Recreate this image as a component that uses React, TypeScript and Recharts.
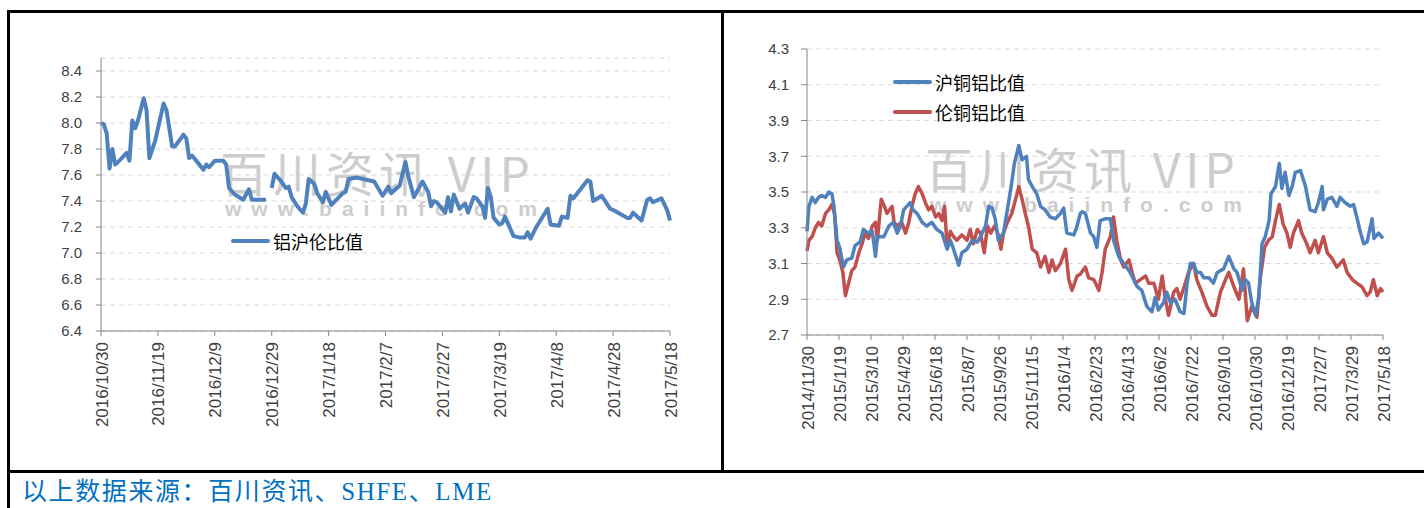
import React from 'react';
import { LineChart, Line, XAxis, YAxis, CartesianGrid } from 'recharts';

// left panel: 铝沪伦比值, x = days after 2016/10/30
const leftTickLabels = ['2016/10/30', '2016/11/19', '2016/12/9', '2016/12/29', '2017/1/18', '2017/2/7', '2017/2/27', '2017/3/19', '2017/4/8', '2017/4/28', '2017/5/18'];
const leftYTicks = [6.4, 6.6, 6.8, 7.0, 7.2, 7.4, 7.6, 7.8, 8.0, 8.2, 8.4];
const leftDays = [0, 1, 2, 3, 4, 5, 6, 9, 10, 11, 12, 13, 15, 16, 17, 19, 22, 23, 25, 26, 29, 30, 31, 32, 36, 37, 38, 40, 43, 44, 45, 47, 50, 52, 53, 58, 59, 60, 61, 63, 65, 66, 67, 69, 71, 72, 73, 75, 76, 78, 79, 81, 85, 86, 87, 90, 96, 99, 101, 102, 105, 107, 108, 110, 113, 115, 116, 117, 118, 121, 122, 123, 124, 126, 128, 129, 130, 131, 132, 134, 135, 136, 137, 138, 140, 141, 142, 143, 145, 147, 149, 150, 151, 153, 157, 158, 161, 162, 164, 165, 166, 171, 172, 173, 176, 179, 181, 185, 186, 187, 190, 192, 193, 194, 197, 199, 200];
const leftRatio = [8.00, 7.99, 7.92, 7.65, 7.80, 7.68, 7.70, 7.77, 7.71, 8.02, 7.96, 8.02, 8.19, 8.10, 7.73, 7.86, 8.15, 8.10, 7.82, 7.82, 7.91, 7.88, 7.73, 7.75, 7.64, 7.68, 7.66, 7.71, 7.71, 7.68, 7.50, 7.45, 7.41, 7.49, 7.41, 7.41, null, 7.50, 7.61, 7.56, 7.50, 7.51, 7.43, 7.36, 7.31, 7.38, 7.57, 7.53, 7.46, 7.39, 7.47, 7.37, 7.46, 7.47, 7.57, 7.58, 7.55, 7.44, 7.51, 7.46, 7.52, 7.70, 7.59, 7.43, 7.55, 7.47, 7.36, 7.40, 7.39, 7.31, 7.43, 7.32, 7.45, 7.34, 7.38, 7.31, 7.37, 7.43, 7.42, 7.36, 7.27, 7.50, 7.43, 7.27, 7.22, 7.23, 7.28, 7.23, 7.13, 7.12, 7.12, 7.16, 7.11, 7.20, 7.34, 7.22, 7.21, 7.28, 7.27, 7.44, 7.42, 7.56, 7.55, 7.40, 7.44, 7.34, 7.32, 7.27, 7.27, 7.31, 7.25, 7.41, 7.42, 7.39, 7.42, 7.33, 7.25];

// right panel: 沪铜铝比值 / 伦铜铝比值, x = days after 2014/11/30
const rightTickLabels = ['2014/11/30', '2015/1/19', '2015/3/10', '2015/4/29', '2015/6/18', '2015/8/7', '2015/9/26', '2015/11/15', '2016/1/4', '2016/2/23', '2016/4/13', '2016/6/2', '2016/7/22', '2016/9/10', '2016/10/30', '2016/12/19', '2017/2/7', '2017/3/29', '2017/5/18'];
const rightYTicks = [2.7, 2.9, 3.1, 3.3, 3.5, 3.7, 3.9, 4.1, 4.3];
const shDays = [0, 3, 8, 13, 18, 23, 29, 34, 39, 42, 47, 51, 57, 62, 70, 75, 83, 88, 96, 102, 107, 110, 120, 128, 135, 141, 146, 151, 156, 161, 166, 172, 180, 187, 195, 203, 211, 219, 224, 229, 237, 242, 250, 258, 266, 271, 279, 284, 289, 294, 299, 307, 313, 319, 324, 331, 336, 343, 346, 352, 359, 365, 372, 380, 388, 396, 401, 406, 417, 422, 427, 430, 435, 443, 448, 453, 458, 466, 474, 479, 487, 495, 505, 516, 523, 531, 539, 544, 549, 557, 562, 568, 575, 583, 589, 594, 599, 604, 609, 615, 620, 628, 635, 641, 651, 659, 667, 672, 680, 685, 690, 695, 701, 706, 711, 716, 722, 725, 732, 738, 742, 747, 753, 758, 763, 771, 779, 786, 794, 799, 805, 807, 813, 820, 828, 833, 841, 849, 854, 859, 865, 870, 875, 883, 886, 893, 900];
const shRatio = [3.28, 3.42, 3.47, 3.44, 3.47, 3.48, 3.47, 3.50, 3.49, 3.42, 3.23, 3.19, 3.08, 3.12, 3.13, 3.20, 3.22, 3.29, 3.27, 3.28, 3.14, 3.25, 3.25, 3.31, 3.33, 3.27, 3.31, 3.40, 3.42, 3.44, 3.40, 3.38, 3.33, 3.31, 3.33, 3.29, 3.27, 3.18, 3.23, 3.18, 3.09, 3.16, 3.18, 3.23, 3.22, 3.25, 3.31, 3.42, 3.41, 3.35, 3.23, 3.27, 3.40, 3.53, 3.66, 3.76, 3.68, 3.70, 3.57, 3.53, 3.49, 3.42, 3.40, 3.36, 3.35, 3.38, 3.41, 3.27, 3.26, 3.31, 3.38, 3.39, 3.38, 3.27, 3.25, 3.19, 3.34, 3.35, 3.35, 3.23, 3.14, 3.10, 3.05, 2.97, 2.95, 2.86, 2.83, 2.91, 2.84, 2.88, 2.94, 2.88, 2.90, 2.83, 2.82, 2.99, 3.10, 3.10, 3.05, 3.05, 3.02, 3.02, 2.99, 3.05, 3.07, 3.14, 3.07, 3.05, 2.95, 3.01, 2.99, 2.88, 2.81, 2.91, 3.21, 3.25, 3.34, 3.49, 3.53, 3.66, 3.52, 3.61, 3.48, 3.53, 3.61, 3.62, 3.53, 3.40, 3.39, 3.44, 3.53, 3.40, 3.46, 3.47, 3.42, 3.47, 3.44, 3.42, 3.43, 3.36, 3.27, 3.21, 3.22, 3.35, 3.24, 3.27, 3.24];
const lmeDays = [0, 3, 8, 13, 18, 23, 29, 34, 39, 43, 47, 51, 56, 60, 65, 70, 75, 81, 86, 91, 96, 102, 107, 110, 116, 121, 125, 133, 136, 141, 148, 154, 159, 164, 169, 174, 180, 185, 190, 195, 201, 206, 211, 215, 219, 224, 229, 234, 242, 250, 255, 260, 266, 271, 277, 282, 287, 293, 298, 303, 307, 313, 320, 326, 331, 336, 341, 346, 352, 359, 365, 372, 378, 383, 388, 396, 404, 409, 414, 422, 427, 435, 440, 448, 456, 461, 466, 474, 479, 484, 490, 495, 503, 508, 513, 521, 529, 534, 542, 549, 555, 560, 565, 573, 578, 583, 591, 596, 604, 609, 617, 625, 633, 638, 646, 654, 659, 667, 675, 682, 688, 695, 703, 708, 715, 721, 727, 732, 738, 744, 750, 755, 760, 768, 773, 781, 786, 794, 799, 807, 813, 820, 828, 838, 844, 852, 859, 867, 875, 880, 885, 891, 896, 900];
const lmeRatio = [3.17, 3.23, 3.25, 3.30, 3.33, 3.31, 3.38, 3.40, 3.43, 3.38, 3.16, 3.12, 3.05, 2.92, 2.99, 3.06, 3.08, 3.16, 3.21, 3.27, 3.24, 3.31, 3.33, 3.23, 3.46, 3.42, 3.38, 3.42, 3.33, 3.31, 3.33, 3.27, 3.33, 3.42, 3.49, 3.53, 3.49, 3.44, 3.40, 3.42, 3.36, 3.38, 3.34, 3.42, 3.19, 3.28, 3.25, 3.23, 3.26, 3.23, 3.29, 3.21, 3.29, 3.27, 3.16, 3.31, 3.27, 3.31, 3.27, 3.18, 3.27, 3.33, 3.38, 3.46, 3.53, 3.46, 3.38, 3.31, 3.18, 3.16, 3.08, 3.14, 3.05, 3.12, 3.06, 3.10, 3.18, 3.01, 2.95, 3.03, 3.04, 3.08, 3.02, 3.01, 2.95, 3.05, 3.18, 3.25, 3.36, 3.23, 3.12, 3.08, 3.12, 3.05, 2.99, 3.01, 3.03, 2.99, 2.99, 2.90, 3.03, 2.90, 2.81, 2.94, 2.96, 2.90, 2.99, 3.05, 3.10, 3.01, 2.94, 2.86, 2.81, 2.81, 2.94, 3.01, 3.05, 2.97, 2.90, 3.07, 2.78, 2.86, 2.80, 3.01, 3.19, 3.23, 3.25, 3.34, 3.43, 3.32, 3.27, 3.19, 3.27, 3.34, 3.27, 3.21, 3.16, 3.23, 3.16, 3.25, 3.16, 3.13, 3.08, 3.12, 3.05, 3.01, 2.99, 2.97, 2.92, 2.94, 3.01, 2.92, 2.96, 2.94];

const leftData = leftDays.map((d, i) => ({ day: d, ratio: leftRatio[i] }));
const shData = shDays.map((d, i) => ({ day: d, v: shRatio[i] }));
const lmeData = lmeDays.map((d, i) => ({ day: d, v: lmeRatio[i] }));

const BLUE = '#4F81BD';
const RED = '#C0504D';
const AXIS = '#868686';
const FONT = "'Liberation Sans', Arial, sans-serif";
const CJK = "'Noto Sans CJK SC', sans-serif";

const rotatedTick = (labels: string[], step: number) => (props: any) => {
  const { x, y, payload } = props;
  const label = labels[Math.round(payload.value / step)];
  const ax = x + 1;
  const ay = y + 4;
  return (
    <text x={ax} y={ay} transform={`rotate(-90 ${ax} ${ay})`} textAnchor="end" dominantBaseline="central"
      fontSize={17} fontFamily={FONT} fill="#404040">{label}</text>
  );
};

// legend drawn inside the plot area, like the Excel original
const LegendBox = ({ left, top, items }: { left: number; top: number; items: { name: string; color: string }[] }) => (
  <div style={{ position: 'absolute', left, top }}>
    {items.map(it => (
      <div key={it.name} style={{ display: 'flex', alignItems: 'center', height: 30 }}>
        <div style={{ width: 39, height: 4, background: it.color, borderRadius: 2, marginRight: 3 }} />
        <span style={{ fontFamily: CJK, fontSize: 18, color: '#000', lineHeight: '30px' }}>{it.name}</span>
      </div>
    ))}
  </div>
);

const Watermark = ({ left, top }: { left: number; top: number }) => (
  <div style={{ position: 'absolute', left, top, color: '#cdcdcd', pointerEvents: 'none' }}>
    <div style={{ fontFamily: CJK, fontSize: 48, lineHeight: '46px', height: 46, letterSpacing: 5, whiteSpace: 'nowrap' }}>百川资讯 VIP</div>
    <div style={{ fontFamily: FONT, fontWeight: 'bold', fontSize: 21, lineHeight: '18px', marginTop: 6, letterSpacing: 10, whiteSpace: 'nowrap', marginLeft: 5 }}>www.baiinfo.com</div>
  </div>
);

const Rule = ({ left, top, width, height }: { left: number; top: number; width: number; height: number }) => (
  <div style={{ position: 'absolute', left, top, width, height, background: '#000' }} />
);

export default function App() {
  return (
    <div style={{ position: 'absolute', left: 0, top: 0, width: 1424, height: 508, background: '#fff', overflow: 'hidden' }}>
      <Watermark left={220} top={148} />
      <Watermark left={925} top={144} />

      <div style={{ position: 'absolute', left: 10, top: 14 }}>
        <LineChart width={700} height={440} data={leftData} margin={{ top: 44, right: 40, bottom: 43, left: 41 }}>
          <CartesianGrid vertical={false} stroke="#d9d9d9" strokeDasharray="5 4" />
          <XAxis dataKey="day" type="number" domain={[0, 200]} ticks={leftTickLabels.map((_, i) => i * 20)} interval={0}
            height={80} stroke={AXIS} tickSize={5} tick={rotatedTick(leftTickLabels, 20)} />
          <YAxis type="number" domain={[6.4, 8.5]} ticks={leftYTicks} interval={0} width={50} stroke={AXIS} tickSize={5} tickMargin={14}
            tickFormatter={(v: number) => v.toFixed(1)} tick={{ fontSize: 15, fill: '#404040', fontFamily: FONT }} />
          <Line dataKey="ratio" name="铝沪伦比值" stroke={BLUE} strokeWidth={4} dot={false} type="linear"
            strokeLinejoin="round" connectNulls={false} isAnimationActive={false} />
        </LineChart>
      </div>
      <LegendBox left={231} top={226} items={[{ name: '铝沪伦比值', color: BLUE }]} />

      <div style={{ position: 'absolute', left: 730, top: 14 }}>
        <LineChart width={680} height={440} margin={{ top: 35, right: 27, bottom: 39, left: 27 }}>
          <CartesianGrid vertical={false} stroke="#d9d9d9" strokeDasharray="5 4" />
          <XAxis dataKey="day" type="number" domain={[0, 900]} ticks={rightTickLabels.map((_, i) => i * 50)} interval={0}
            height={80} stroke={AXIS} tickSize={5} tick={rotatedTick(rightTickLabels, 50)} allowDuplicatedCategory={false} />
          <YAxis type="number" domain={[2.7, 4.3]} ticks={rightYTicks} interval={0} width={50} stroke={AXIS} tickSize={6} tickMargin={12}
            tickFormatter={(v: number) => v.toFixed(1)} tick={{ fontSize: 15, fill: '#404040', fontFamily: FONT }} />
          <Line data={lmeData} dataKey="v" name="伦铜铝比值" stroke={RED} strokeWidth={3.5} dot={false} type="linear"
            strokeLinejoin="round" isAnimationActive={false} />
          <Line data={shData} dataKey="v" name="沪铜铝比值" stroke={BLUE} strokeWidth={3.5} dot={false} type="linear"
            strokeLinejoin="round" isAnimationActive={false} />
        </LineChart>
      </div>
      <LegendBox left={893} top={67} items={[{ name: '沪铜铝比值', color: BLUE }, { name: '伦铜铝比值', color: RED }]} />

      <Rule left={7} top={10} width={1417} height={3} />
      <Rule left={7} top={10} width={3} height={498} />
      <Rule left={721} top={10} width={3} height={462} />
      <Rule left={7} top={470} width={1417} height={3} />

      <div style={{ position: 'absolute', left: 22, top: 477, fontFamily: "'Liberation Serif', 'Noto Sans CJK SC', serif", fontSize: 25, lineHeight: '30px', color: '#0070C0', letterSpacing: 1.6, whiteSpace: 'nowrap' }}>
        以上数据来源：百川资讯、SHFE、LME
      </div>
    </div>
  );
}
